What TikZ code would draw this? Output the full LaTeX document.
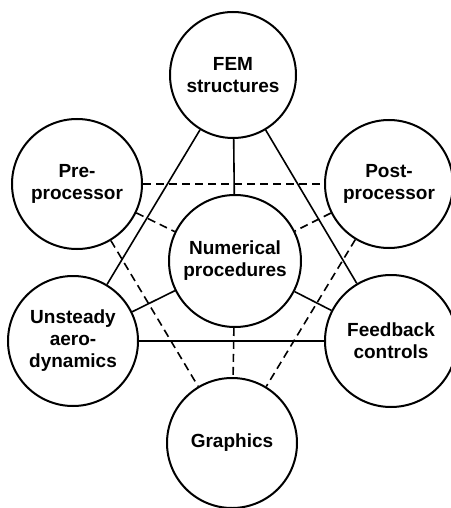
\documentclass[tikz,border=0pt]{standalone}
\usepackage{fontspec}
\setmainfont{Liberation Sans}
\begin{document}
\begin{tikzpicture}[x=1pt,y=-1pt,
  bub/.style={circle,draw,line width=2pt,minimum size=#1,inner sep=0pt,align=center,
    font=\fontsize{19}{22}\selectfont\bfseries},
  bub/.default=130pt,
  solidlink/.style={line width=1.6pt},
  dashlink/.style={line width=1.6pt,dash pattern=on 8pt off 5pt}]
\useasboundingbox (0,0) rectangle (450,508);
\node[bub=126pt] (fem)  at (233,75)  {FEM\\structures};
\node[bub=130pt] (pre)  at (77,184)  {Pre-\\processor};
\node[bub=128pt] (post) at (389,184) {Post-\\processor};
\node[bub=132pt] (num)  at (235,261) {Numerical\\procedures};
\node[bub=130pt] (uns)  at (73,341)  {Unsteady\\aero-\\dynamics};
\node[bub=132pt] (feed) at (391,341) {Feedback\\controls};
\node[bub=130pt] (gra)  at (232,443) {Graphics};
\draw[solidlink] (fem) -- (num);
\draw[solidlink] (fem) -- (uns);
\draw[solidlink] (fem) -- (feed);
\draw[solidlink] (num) -- (uns);
\draw[solidlink] (num) -- (feed);
\draw[solidlink] (uns) -- (feed);
\draw[dashlink] (pre) -- (post);
\draw[dashlink] (pre) -- (num);
\draw[dashlink] (post) -- (num);
\draw[dashlink] (pre) -- (gra);
\draw[dashlink] (post) -- (gra);
\draw[dashlink] (num) -- (gra);
\end{tikzpicture}
\end{document}
